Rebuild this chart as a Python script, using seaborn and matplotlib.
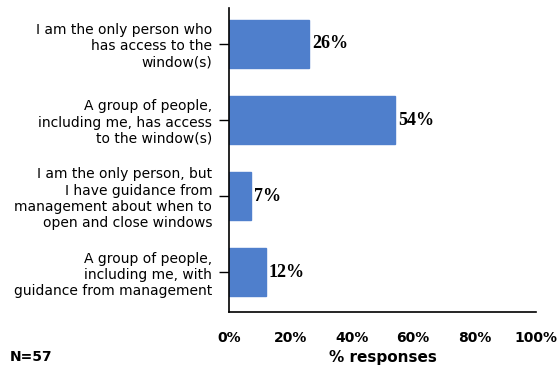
import matplotlib
matplotlib.use('Agg')
import matplotlib.pyplot as plt
import matplotlib.ticker as mticker
import pandas as pd
import seaborn as sns

categories = [
    'I am the only person who\nhas access to the\nwindow(s)',
    'A group of people,\nincluding me, has access\nto the window(s)',
    'I am the only person, but\nI have guidance from\nmanagement about when to\nopen and close windows',
    'A group of people,\nincluding me, with\nguidance from management',
]
values = [26, 54, 7, 12]
x_ticks = [0, 20, 40, 60, 80, 100]

df = pd.DataFrame({'category': categories, 'value': values})

sns.set_style('white')
plt.rcParams['font.family'] = ['DejaVu Sans']
plt.rcParams['text.color'] = 'black'
plt.rcParams['xtick.color'] = 'black'
plt.rcParams['ytick.color'] = 'black'
plt.rcParams['axes.labelcolor'] = 'black'

fig = plt.figure(figsize=(5.6, 3.67), dpi=100)
ax = fig.add_axes([0.409, 0.15, 0.548, 0.828])

sns.barplot(data=df, x='value', y='category', orient='h', color='#4f7fcc',
            width=0.63, saturation=1, ax=ax, edgecolor='#4f7fcc')

for i, v in enumerate(values):
    ax.text(v + 1, i, f'{v}%', va='center', ha='left', fontsize=13,
            fontweight='bold', family='Liberation Serif')

ax.set_xlim(0, 100)
ax.set_ylim(3.52, -0.47)
ax.set_xticks(x_ticks)
ax.xaxis.set_major_formatter(mticker.FuncFormatter(lambda v, p: f'{int(v)}%'))
ax.tick_params(axis='x', direction='in', length=3, width=1, labelsize=10, pad=14)
for lab in ax.get_xticklabels():
    lab.set_fontweight('bold')
ax.tick_params(axis='y', direction='out', length=7, width=1, labelsize=10,
               left=True, pad=5)
for lab in ax.get_yticklabels():
    lab.set_horizontalalignment('right')
    lab.set_multialignment('right')
    lab.set_linespacing(1.2)

ax.set_xlabel('% responses', fontsize=11, fontweight='bold', labelpad=3)
ax.set_ylabel('')

sns.despine(ax=ax, top=True, right=True)
for sp in ['left', 'bottom']:
    ax.spines[sp].set_color('black')
    ax.spines[sp].set_linewidth(1.2)

fig.text(0.018, 0.015, 'N=57', fontsize=10, fontweight='bold')

fig.savefig('out.png', dpi=100)
